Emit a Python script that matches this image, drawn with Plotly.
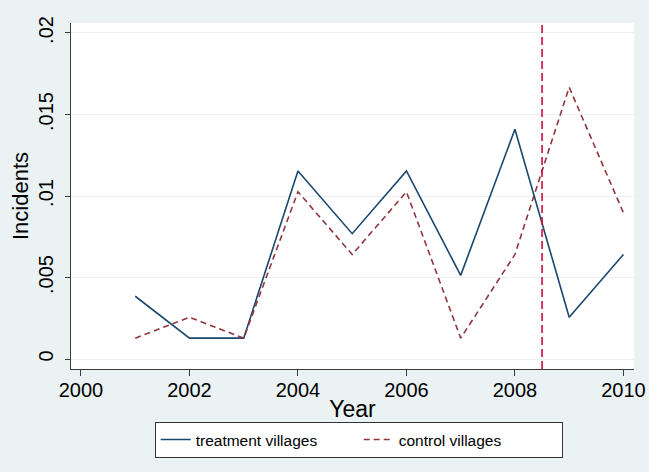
import plotly.graph_objects as go

years = [2001, 2002, 2003, 2004, 2005, 2006, 2007, 2008, 2009, 2010]
treatment = [0.00385, 0.00128, 0.00128, 0.01154, 0.00769, 0.01154, 0.00513, 0.01410, 0.00256, 0.00641]
control = [0.00128, 0.00256, 0.00128, 0.01026, 0.00641, 0.01026, 0.00128, 0.00641, 0.01667, 0.00897]
policy_year = 2008.5

x_ticks = [2000, 2002, 2004, 2006, 2008, 2010]
y_ticks = [0, 0.005, 0.01, 0.015, 0.02]
y_tick_labels = ["0", ".005", ".01", ".015", ".02"]

FONT = "Liberation Sans, Arial, Helvetica, sans-serif"
BG = "#EAF2F3"
AXIS = "#3a3a3a"

fig = go.Figure()
fig.add_trace(go.Scatter(
    x=years, y=treatment, mode="lines", name="treatment villages",
    line=dict(color="#1A476F", width=1.6)))
fig.add_trace(go.Scatter(
    x=years, y=control, mode="lines", name="control villages",
    line=dict(color="#90353B", width=1.6, dash="6px,4px")))

fig.add_shape(type="line", xref="x", yref="paper", x0=policy_year, x1=policy_year,
              y0=0, y1=1, line=dict(color="#D0103A", width=1.6, dash="8px,4px"))

fig.update_layout(
    width=649, height=472,
    margin=dict(l=71, r=15, t=23, b=103, autoexpand=False),
    paper_bgcolor=BG, plot_bgcolor="white",
    font=dict(family=FONT, color="black"),
    showlegend=True,
    legend=dict(orientation="h", x=0.511, xanchor="center", y=-0.153, yanchor="top",
                bgcolor="white", bordercolor="#333333", borderwidth=1,
                font=dict(size=15.5, family=FONT), entrywidth=158, entrywidthmode="pixels",
                tracegroupgap=0),
    xaxis=dict(
        range=[1999.816, 2010.195], tickmode="array", tickvals=x_ticks,
        ticktext=[str(v) for v in x_ticks], automargin=False,
        showgrid=False, zeroline=False, showline=True, linecolor=AXIS, linewidth=1.2,
        ticks="outside", ticklen=6, tickcolor=AXIS, tickwidth=1,
        ticklabelstandoff=-3,
        tickfont=dict(size=20, family=FONT),
        title=dict(text="Year", font=dict(size=23, family=FONT), standoff=0)),
    yaxis=dict(
        range=[-0.000613, 0.020613], tickmode="array", tickvals=y_ticks,
        ticktext=y_tick_labels, tickangle=-90, automargin=False,
        showgrid=True, gridcolor=BG, gridwidth=1.2, zeroline=False,
        showline=True, linecolor=AXIS, linewidth=1.2,
        ticks="outside", ticklen=5, tickcolor=AXIS, tickwidth=1,
        ticklabelstandoff=4,
        tickfont=dict(size=20, family=FONT),
        title=dict(text="Incidents", font=dict(size=22, family=FONT), standoff=0)),
)

fig.write_html(
    "out.html",
    config={"displayModeBar": False},
    post_script="document.body.style.margin='0';document.body.style.background='#EAF2F3';",
)
